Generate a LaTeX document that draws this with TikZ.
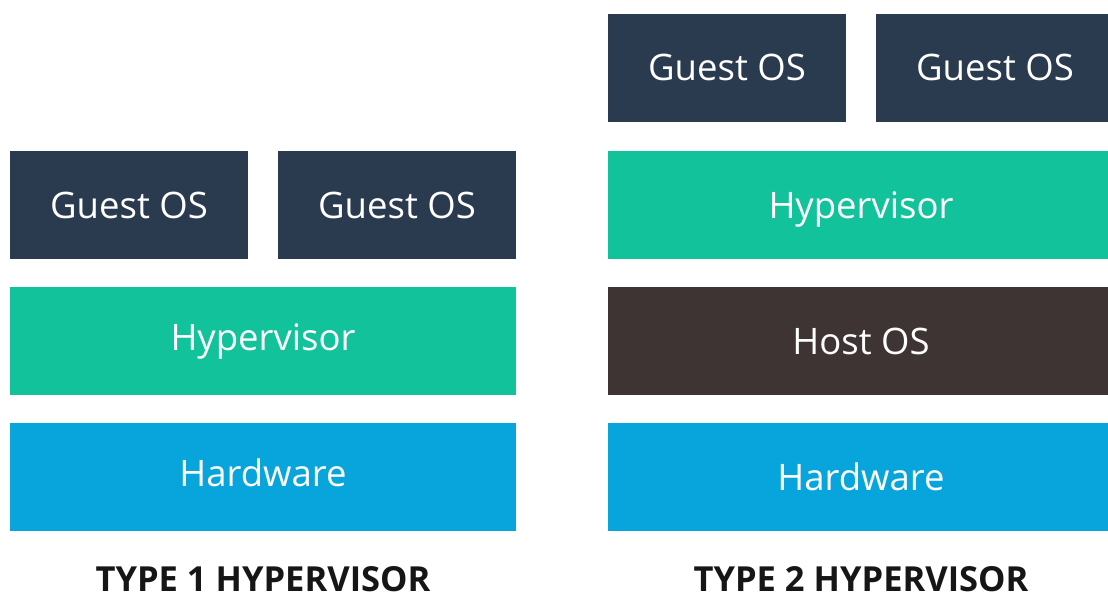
\documentclass[tikz,border=0pt]{standalone}
\usepackage{fontspec}
\setmainfont{Open Sans}
\usepackage{xcolor}
\definecolor{guestblue}{HTML}{2A3A4F}
\definecolor{hypgreen}{HTML}{12C29A}
\definecolor{hwblue}{HTML}{08A5DC}
\definecolor{hostbrown}{HTML}{3E3434}
\definecolor{titlegray}{HTML}{161616}

\begin{document}
\begin{tikzpicture}[x=1pt, y=-1pt,
        layer/.style={inner sep=0pt, minimum height=108pt, text=white,
            text height=26pt, text depth=0pt,
            font=\fontsize{36.5}{42}\selectfont},
        lift/.style={text depth=8pt},
        guest/.style={layer, fill=guestblue, minimum width=238pt},
        wide/.style={layer, minimum width=506pt},
        title/.style={anchor=base, text=titlegray,
            font=\fontsize{34.5}{40}\selectfont\bfseries}]
        \useasboundingbox (0, 0) rectangle (1108, 599);

        % Type 1
        \node[guest] (g1a) at (129, 205){Guest OS};
        \node[guest] (g1b) at (397, 205){Guest OS};
        \node[wide, lift, fill=hypgreen] (hyp1) at (263, 341){Hypervisor};
        \node[wide, lift, fill=hwblue] (hw1) at (263, 477){Hardware};
        \node[title] (t1) at (263, 591){TYPE 1 HYPERVISOR};

        % Type 2
        \node[guest] (g2a) at (727, 68){Guest OS};
        \node[guest] (g2b) at (995, 68){Guest OS};
        \node[wide, fill=hypgreen] (hyp2) at (861, 205){Hypervisor};
        \node[wide, fill=hostbrown] (host2) at (861, 341){Host OS};
        \node[wide, fill=hwblue] (hw2) at (861, 477){Hardware};
        \node[title] (t2) at (861, 591){TYPE 2 HYPERVISOR};
    \end{tikzpicture}
\end{document}
